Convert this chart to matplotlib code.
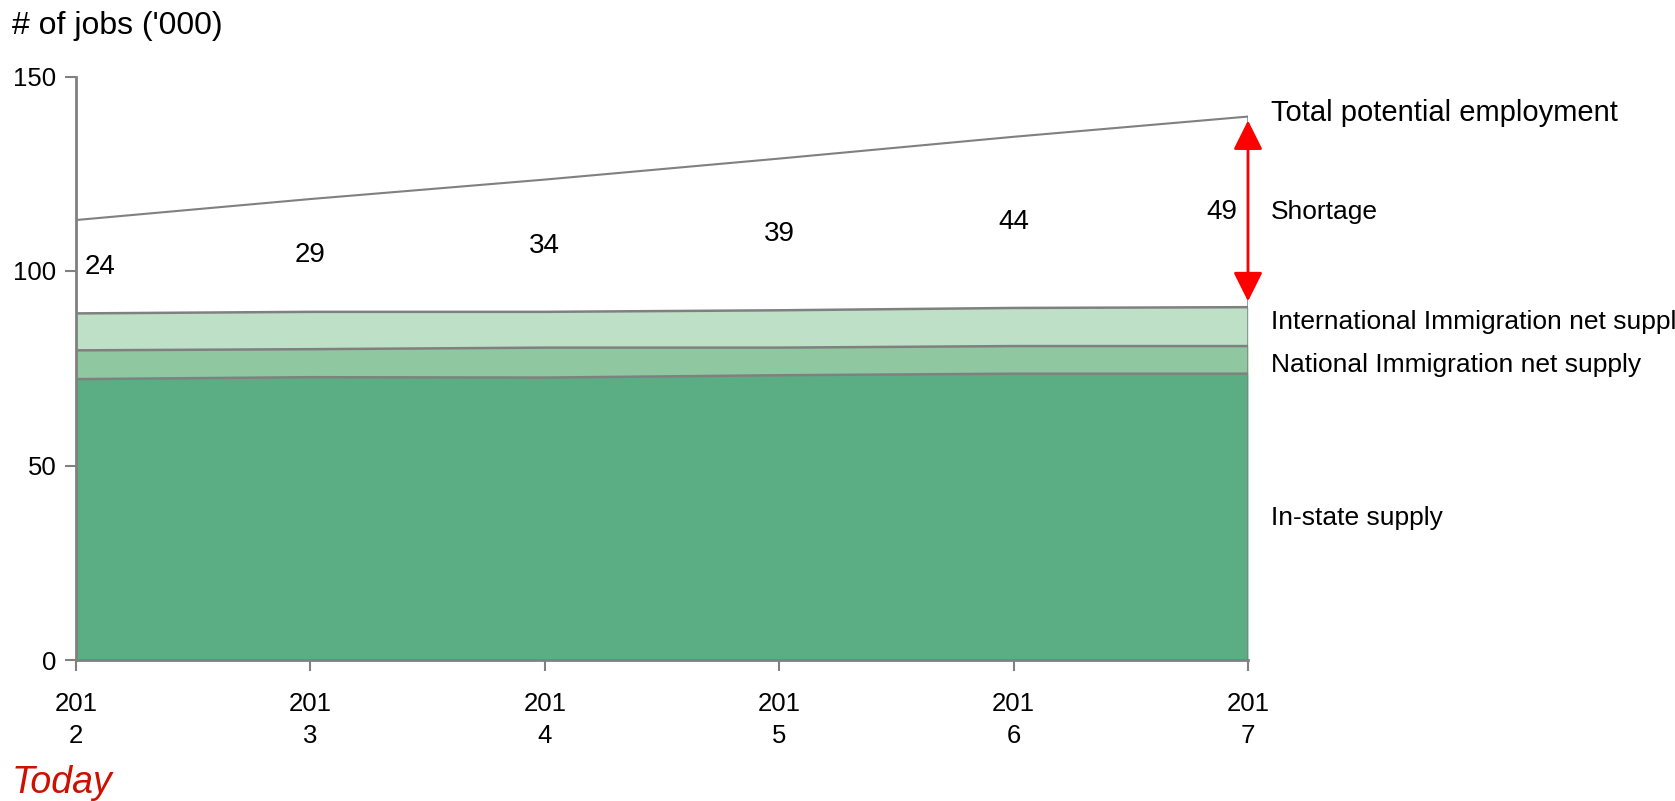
import matplotlib
matplotlib.use("Agg")
import matplotlib.pyplot as plt
import numpy as np

plt.rcParams['font.family'] = ['Liberation Sans', 'DejaVu Sans']

years = [2012, 2013, 2014, 2015, 2016, 2017]
year_labels = ["201\n2", "201\n3", "201\n4", "201\n5", "201\n6", "201\n7"]
in_state = [72.2, 72.7, 72.6, 73.2, 73.6, 73.6]
national = [7.4, 7.2, 7.7, 7.1, 7.1, 7.1]
international = [9.5, 9.6, 9.2, 9.6, 9.8, 10.0]
shortage = [24, 29, 34, 39, 44, 49]
series_names = ["In-state supply", "National Immigration net supply",
                "International Immigration net supply"]
colors = ["#5bae84", "#8fc7a1", "#bde0c6"]
yticks = [0, 50, 100, 150]

x = np.array(years, dtype=float)
s1 = np.array(in_state)
s2 = s1 + np.array(national)
s3 = s2 + np.array(international)
total = s3 + np.array(shortage)

fig = plt.figure(figsize=(16.75, 8.01), dpi=100)
ax = fig.add_axes([76/1675, 1 - 660/801, (1248-76)/1675, (660-76.5)/801])

gray = "#808080"
ax.fill_between(x, 0, s1, color=colors[0], lw=0)
ax.fill_between(x, s1, s2, color=colors[1], lw=0)
ax.fill_between(x, s2, s3, color=colors[2], lw=0)
for s in (s1, s2, s3):
    ax.plot(x, s, color=gray, lw=1.8)
ax.plot(x, total, color=gray, lw=1.5)
ax.plot([x[-1], x[-1]], [0, total[-1]], color=gray, lw=1.8)

ax.set_xlim(years[0], years[-1])
ax.set_ylim(0, 150)
ax.set_xticks(years)
ax.set_xticklabels(year_labels, fontsize=18.5, linespacing=1.45)
ax.set_yticks(yticks)
ax.set_yticklabels([str(v) for v in yticks], fontsize=18.5)
ax.tick_params(axis='both', direction='out', length=8, width=1.5, color=gray, pad=6)
ax.tick_params(axis='x', pad=15)
for side in ("top", "right"):
    ax.spines[side].set_visible(False)
for side in ("left", "bottom"):
    ax.spines[side].set_color(gray)
    ax.spines[side].set_linewidth(2)

# shortage labels at midpoint of gap
for i, (xi, v) in enumerate(zip(x, shortage)):
    ymid = (s3[i] + total[i]) / 2
    if i == 0:
        ax.annotate(str(v), (xi, ymid), xytext=(9, 0), textcoords='offset pixels',
                    ha='left', va='center', fontsize=20)
    elif i == len(x) - 1:
        ax.annotate(str(v), (xi, ymid), xytext=(-11, 0), textcoords='offset pixels',
                    ha='right', va='center', fontsize=20)
    else:
        ax.text(xi, ymid, str(v), ha='center', va='center', fontsize=20)

# red double arrow
ax.annotate("", xy=(x[-1], total[-1] - 1.0), xytext=(x[-1], s3[-1] + 1.5),
            xycoords='data', textcoords='data',
            arrowprops=dict(arrowstyle='<|-|>,head_length=1.8,head_width=0.9',
                            color='#ff0000', lw=2.0, shrinkA=0, shrinkB=0))

# right labels
def rlabel(y, txt, fs=19):
    ax.annotate(txt, (x[-1], y), xytext=(23, 0), textcoords='offset pixels',
                ha='left', va='center', fontsize=fs, annotation_clip=False)

rlabel(140.6, "Total potential employment", 21)
rlabel((s3[-1] + total[-1]) / 2, "Shortage")
rlabel(86.9, series_names[2])
rlabel(75.8, series_names[1])
rlabel(36.5, series_names[0])

fig.text(12/1675, 1 - 26/801, "# of jobs ('000)", fontsize=23, ha='left', va='center')
fig.text(12/1675, 1 - 783/801, "Today", fontsize=27, style='italic',
         color='#cc1100', ha='left', va='center')

fig.savefig("out.png", dpi=100)
